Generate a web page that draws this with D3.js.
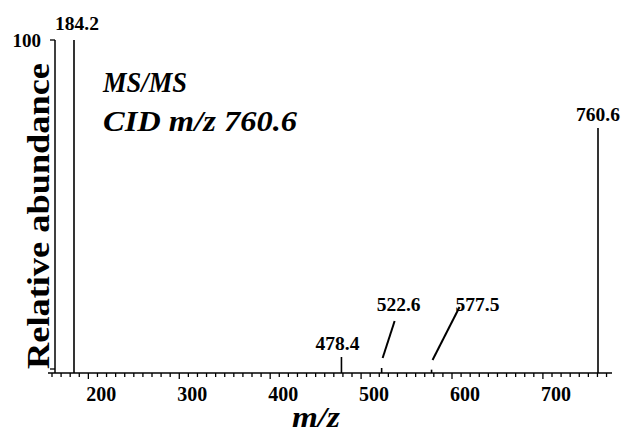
<!DOCTYPE html>
<html><head><meta charset="utf-8">
<script src="https://cdn.jsdelivr.net/npm/d3@7"></script>
<style>body{margin:0;background:#fff}svg{display:block}</style>
</head><body>
<svg id="c" width="625" height="433"></svg>
<script>
const peakMz = [184.2, 478.4, 522.6, 577.5, 760.6];
const peakAbund = [100, 4.8, 1.5, 1.0, 73.6];
const peakLabels = ["184.2", "478.4", "522.6", "577.5", "760.6"];
const xTicks = [200, 300, 400, 500, 600, 700];
const yTicks = [0, 100];

const svg = d3.select("#c");
const font = "'Liberation Serif','Times New Roman',serif";
const x = d3.scaleLinear().domain([155.6, 776]).range([48, 612]);
const y = d3.scaleLinear().domain([0, 100]).range([373, 40]);

// x axis line
svg.append("line").attr("x1", 48).attr("x2", 612).attr("y1", y(0)).attr("y2", y(0))
  .attr("stroke", "#000").attr("stroke-width", 1.5);
// minor ticks
const minor = d3.range(160, 776, 10);
svg.selectAll(".mt").data(minor).enter().append("line")
  .attr("x1", d => x(d)).attr("x2", d => x(d))
  .attr("y1", y(0)).attr("y2", d => y(0) + (d % 100 === 0 ? 6 : 4))
  .attr("stroke", "#000").attr("stroke-width", 1.3);
svg.selectAll(".xl").data(xTicks).enter().append("text")
  .attr("x", d => x(d) + 13).attr("y", 401).attr("text-anchor", "middle")
  .attr("font-family", font).attr("font-weight", "bold").attr("font-size", 20)
  .text(d => d);

// y axis
svg.append("line").attr("x1", 55).attr("x2", 55).attr("y1", y(100)).attr("y2", y(0))
  .attr("stroke", "#000").attr("stroke-width", 1.5);
svg.selectAll(".yt").data(yTicks).enter().append("line")
  .attr("x1", 50).attr("x2", 55).attr("y1", d => y(d) - (d === 0 ? 4 : 0)).attr("y2", d => y(d) - (d === 0 ? 4 : 0))
  .attr("stroke", "#000").attr("stroke-width", 1.3);
svg.append("text").attr("x", 41).attr("y", y(100) + 7).attr("text-anchor", "end")
  .attr("font-family", font).attr("font-weight", "bold").attr("font-size", 19).text("100");

// peaks
svg.selectAll(".pk").data(peakMz).enter().append("line")
  .attr("x1", d => x(d)).attr("x2", d => x(d))
  .attr("y1", y(0)).attr("y2", (d, i) => y(peakAbund[i]))
  .attr("stroke", "#000").attr("stroke-width", 1.6);

// peak labels
const lblPos = [
  {dx: 3, y: 30}, {dx: -4, y: 350}, {dx: 17, y: 311}, {dx: 46, y: 311}, {dx: 0, y: 121}
];
svg.selectAll(".pl").data(peakLabels).enter().append("text")
  .attr("x", (d, i) => x(peakMz[i]) + lblPos[i].dx).attr("y", (d, i) => lblPos[i].y)
  .attr("text-anchor", "middle").attr("font-family", font).attr("font-weight", "bold")
  .attr("font-size", 19.5).text(d => d);

// leader lines
const leaders = [[2, 13, 321, 0, 358], [3, 28, 307, 0, 360]];
leaders.forEach(([i, dx1, y1, dx2, y2]) => {
  svg.append("line").attr("x1", x(peakMz[i]) + dx1).attr("y1", y1)
    .attr("x2", x(peakMz[i]) + dx2 + 1).attr("y2", y2)
    .attr("stroke", "#000").attr("stroke-width", 2);
});

// annotation
svg.append("text").attr("x", 103).attr("y", 92).attr("font-family", font)
  .attr("font-weight", "bold").attr("font-style", "italic").attr("font-size", 30)
  .attr("textLength", 84).attr("lengthAdjust", "spacingAndGlyphs").text("MS/MS");
svg.append("text").attr("x", 103).attr("y", 131).attr("font-family", font)
  .attr("font-weight", "bold").attr("font-style", "italic").attr("font-size", 30)
  .attr("textLength", 194).attr("lengthAdjust", "spacingAndGlyphs").text("CID m/z 760.6");

// axis titles
svg.append("text").attr("transform", "translate(49,216) rotate(-90)")
  .attr("text-anchor", "middle").attr("font-family", font).attr("font-weight", "bold")
  .attr("font-size", 31).attr("textLength", 306).attr("lengthAdjust", "spacingAndGlyphs")
  .text("Relative abundance");
svg.append("text").attr("x", 316).attr("y", 427).attr("text-anchor", "middle")
  .attr("font-family", font).attr("font-weight", "bold").attr("font-style", "italic")
  .attr("font-size", 30).attr("textLength", 48).attr("lengthAdjust", "spacingAndGlyphs").text("m/z");
</script>
</body></html>
